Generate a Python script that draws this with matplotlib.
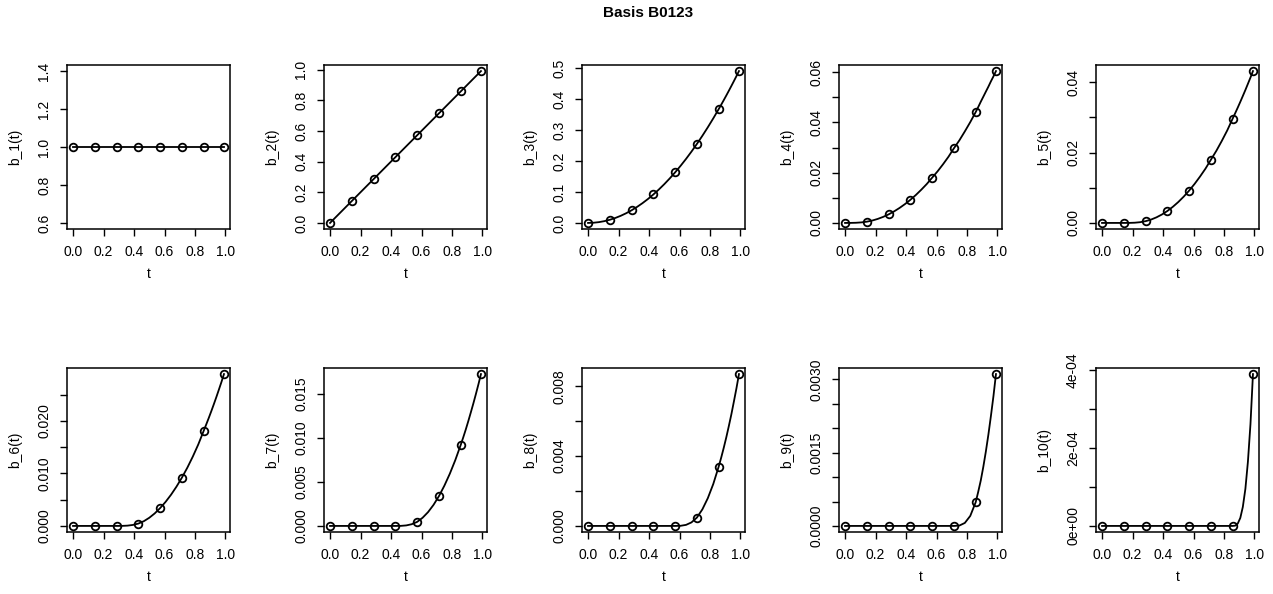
import matplotlib
matplotlib.use("Agg")
import matplotlib.pyplot as plt

plt.rcParams['font.family'] = ['Liberation Sans', 'DejaVu Sans']

# fine grid for the basis curves (denser over the last knot interval)
t_curve = [0.0, 0.0357, 0.0714, 0.1071, 0.1429, 0.1786, 0.2143, 0.25, 0.2857,
           0.3214, 0.3571, 0.3929, 0.4286, 0.4643, 0.5, 0.5357, 0.5714, 0.6071,
           0.6429, 0.6786, 0.7143, 0.75, 0.7857, 0.8214, 0.8571,
           0.8737, 0.8903, 0.907, 0.9235, 0.9403, 0.9568, 0.9736, 0.99]
# positions on the grid where the sample points sit
pt_idx = [0, 4, 8, 12, 16, 20, 24, 32]

b1_curve = [1.0] * 33
b2_curve = [0.0, 0.0357, 0.0714, 0.1071, 0.1429, 0.1786, 0.2143, 0.25, 0.2857,
            0.3214, 0.3571, 0.3929, 0.4286, 0.4643, 0.5, 0.5357, 0.5714, 0.6071,
            0.6429, 0.6786, 0.7143, 0.75, 0.7857, 0.8214, 0.8571,
            0.8737, 0.8903, 0.907, 0.9235, 0.9403, 0.9568, 0.9736, 0.99]
b3_curve = [0.0, 0.00064, 0.00255, 0.00574, 0.0102, 0.01594, 0.02296, 0.03125,
            0.04082, 0.05166, 0.06378, 0.07717, 0.09184, 0.10778, 0.125, 0.1435,
            0.16327, 0.18431, 0.20663, 0.23023, 0.2551, 0.28125, 0.30867,
            0.33737, 0.36735,
            0.3817, 0.39632, 0.4113, 0.42643, 0.4421, 0.45773, 0.4739, 0.49005]
b4_curve = [0.0, 0.0000078, 0.0000625, 0.00021, 0.0005, 0.00095, 0.00159, 0.0024,
            0.0034, 0.00458, 0.00594, 0.00748, 0.0092, 0.0111, 0.0132, 0.01545,
            0.018, 0.02053, 0.02334, 0.02633, 0.0297, 0.03285, 0.03639, 0.0401,
            0.0441,
            0.0461, 0.0482, 0.0502, 0.0522, 0.0542, 0.0563, 0.0583, 0.0604]
b5_curve = [0.0, 0.0, 0.0, 0.0, 0.0, 0.0000078, 0.0000625, 0.00021, 0.0005,
            0.00095, 0.00159, 0.0024, 0.0034, 0.00458, 0.00594, 0.00748, 0.0092,
            0.0111, 0.0132, 0.01545, 0.018, 0.02053, 0.02334, 0.02633, 0.0297,
            0.03124, 0.03282, 0.03445, 0.03611, 0.03782, 0.03957, 0.04136, 0.0432]
b6_curve = [0.0, 0.0, 0.0, 0.0, 0.0, 0.0, 0.0, 0.0, 0.0, 0.000007, 0.000056,
            0.00019, 0.00045, 0.0009, 0.00155, 0.00238, 0.0034, 0.00458, 0.00594,
            0.00748, 0.0092, 0.0111, 0.0132, 0.0155, 0.0181,
            0.01931, 0.02055, 0.02184, 0.02316, 0.02454, 0.02595, 0.0274, 0.0289]
b7_curve = [0.0, 0.0, 0.0, 0.0, 0.0, 0.0, 0.0, 0.0, 0.0, 0.0, 0.0, 0.0, 0.0,
            0.0000072, 0.000058, 0.000194, 0.00046, 0.00093, 0.00157, 0.00239,
            0.00339, 0.00458, 0.00594, 0.00748, 0.00921,
            0.01007, 0.01097, 0.01193, 0.01292, 0.01395, 0.01501, 0.01613, 0.01728]
b8_curve = [0.0, 0.0, 0.0, 0.0, 0.0, 0.0, 0.0, 0.0, 0.0, 0.0, 0.0, 0.0, 0.0, 0.0,
            0.0, 0.0, 0.0, 0.0000075, 0.00006, 0.000203, 0.00048, 0.00095,
            0.00159, 0.0024, 0.0034,
            0.00392, 0.00448, 0.00508, 0.00572, 0.0064, 0.00713, 0.00789, 0.0087]
b9_curve = [0.0, 0.0, 0.0, 0.0, 0.0, 0.0, 0.0, 0.0, 0.0, 0.0, 0.0, 0.0, 0.0, 0.0,
            0.0, 0.0, 0.0, 0.0, 0.0, 0.0, 0.0, 0.0000076, 0.000061, 0.000205,
            0.000486,
            0.0007, 0.00093, 0.00121, 0.00152, 0.00187, 0.00225, 0.00266, 0.00311]
b10_curve = [0.0, 0.0, 0.0, 0.0, 0.0, 0.0, 0.0, 0.0, 0.0, 0.0, 0.0, 0.0, 0.0,
             0.0, 0.0, 0.0, 0.0, 0.0, 0.0, 0.0, 0.0, 0.0, 0.0, 0.0, 0.0,
             0.00000076, 0.0000061, 0.0000206, 0.0000488, 0.0000952,
             0.0001645, 0.0002613, 0.00039]

curves = [b1_curve, b2_curve, b3_curve, b4_curve, b5_curve,
          b6_curve, b7_curve, b8_curve, b9_curve, b10_curve]

# y ticks per panel and which of them get a label
y_ticks = [
    [0.6, 0.8, 1.0, 1.2, 1.4],
    [0.0, 0.2, 0.4, 0.6, 0.8, 1.0],
    [0.0, 0.1, 0.2, 0.3, 0.4, 0.5],
    [0.0, 0.01, 0.02, 0.03, 0.04, 0.05, 0.06],
    [0.0, 0.01, 0.02, 0.03, 0.04],
    [0.0, 0.005, 0.01, 0.015, 0.02, 0.025],
    [0.0, 0.005, 0.01, 0.015],
    [0.0, 0.002, 0.004, 0.006, 0.008],
    [0.0, 0.0005, 0.001, 0.0015, 0.002, 0.0025, 0.003],
    [0.0, 1e-4, 2e-4, 3e-4, 4e-4],
]
y_labels = [
    ["0.6", "0.8", "1.0", "1.2", "1.4"],
    ["0.0", "0.2", "0.4", "0.6", "0.8", "1.0"],
    ["0.0", "0.1", "0.2", "0.3", "0.4", "0.5"],
    ["0.00", "", "0.02", "", "0.04", "", "0.06"],
    ["0.00", "", "0.02", "", "0.04"],
    ["0.000", "", "0.010", "", "0.020", ""],
    ["0.000", "0.005", "0.010", "0.015"],
    ["0.000", "", "0.004", "", "0.008"],
    ["0.0000", "", "", "0.0015", "", "", "0.0030"],
    ["0e+00", "", "2e-04", "", "4e-04"],
]
x_ticks = [0.0, 0.2, 0.4, 0.6, 0.8, 1.0]
x_labels = ["0.0", "0.2", "0.4", "0.6", "0.8", "1.0"]

W, H = 1273, 594
fig = plt.figure(figsize=(W / 100, H / 100), dpi=100)

box_w, box_h = 163, 164
lefts = [67, 324, 582, 839, 1096]
bottoms = [229, 532]
fs = 10

t_pts = [t_curve[i] for i in pt_idx]
for k, curve in enumerate(curves):
    row, col = divmod(k, 5)
    ax = fig.add_axes([lefts[col] / W, 1 - bottoms[row] / H, box_w / W, box_h / H])
    pts = [curve[i] for i in pt_idx]

    ax.plot(t_curve, curve, color='black', lw=1.3)
    ax.plot(t_pts, pts, 'o', ms=5.5, mfc='none', mec='black', mew=1.3)

    # R-style limits: 4% padding around the data range
    lo, hi = min(pts), max(pts)
    if hi == lo:
        lo, hi = lo - 0.4 * abs(lo), hi + 0.4 * abs(hi)
    pad = 0.04 * (hi - lo)
    ax.set_ylim(lo - pad, hi + pad)
    xpad = 0.04 * (max(t_pts) - min(t_pts))
    ax.set_xlim(min(t_pts) - xpad, max(t_pts) + xpad)

    ax.set_xticks(x_ticks)
    ax.set_xticklabels(x_labels, fontsize=fs)
    ax.set_yticks(y_ticks[k])
    ax.set_yticklabels(y_labels[k], fontsize=fs, rotation=90, va='center')
    ax.tick_params(direction='out', length=5, width=1, pad=6.5)
    for sp in ax.spines.values():
        sp.set_linewidth(1.1)

    ax.text(-52 / box_w, 0.5, 'b_%d(t)' % (k + 1), transform=ax.transAxes,
            rotation=90, ha='center', va='center', fontsize=fs)
    ax.text(0.5, -45 / box_h, 't', transform=ax.transAxes,
            ha='center', va='center', fontsize=fs)

fig.text(648 / W, 1 - 13 / H, 'Basis B0123', ha='center', va='center',
         fontsize=11, fontweight='bold')

fig.savefig('out.png', dpi=100)
